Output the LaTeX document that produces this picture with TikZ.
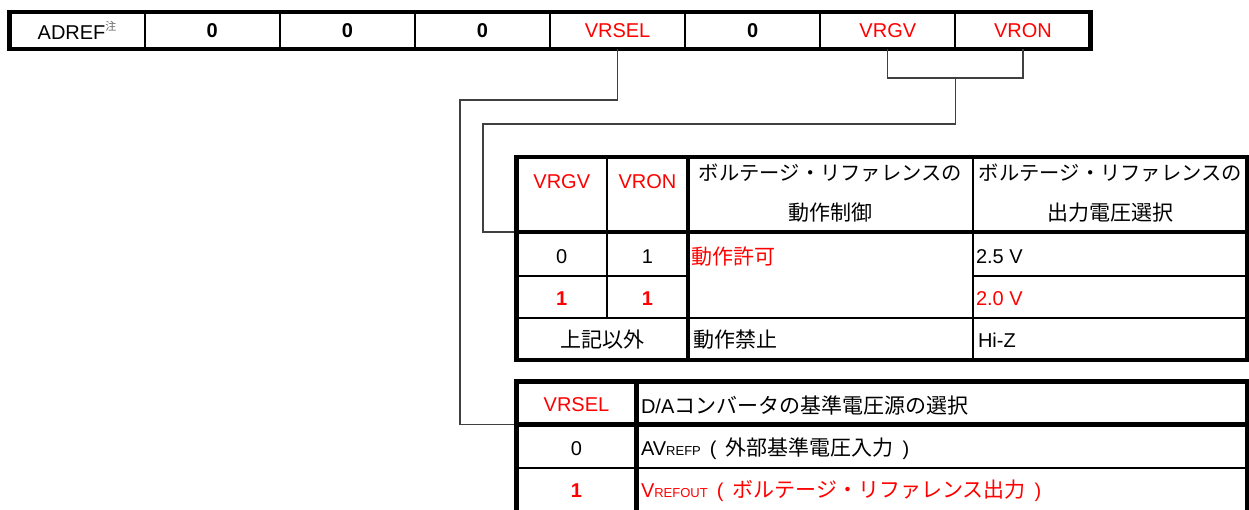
\documentclass[tikz,border=0pt]{standalone}
\usepackage{fontspec}
\setmainfont{Liberation Sans}
\newfontfamily\jpf{Noto Sans CJK JP}
\newcommand{\jpt}[1]{{\jpf\fontsize{21}{24}\selectfont #1}}
\newcommand{\jph}[1]{{\jpf\fontsize{20.3}{24}\selectfont #1}}
\newcommand{\smc}[1]{{\fontsize{13}{14}\selectfont #1}}
\newcommand{\lpar}{\hspace{9pt}(\hspace{9pt}}
\newcommand{\rpar}{\hspace{9pt})}
\definecolor{rd}{RGB}{255,0,0}
\begin{document}
\begin{tikzpicture}[x=1pt,y=-1pt,
  every node/.style={inner sep=0pt, outer sep=0pt, font=\fontsize{20}{24}\selectfont},
  thk/.style={line width=4.5pt},
  thn/.style={line width=1.8pt},
  conn/.style={line width=1.1pt, draw=black!75},
  regcell/.style={draw, line width=1.8pt, minimum width=135.125pt, minimum height=37pt},
  red/.style={text=rd},
  lft/.style={anchor=west}
]
\useasboundingbox (0,0) rectangle (1249,509);

% ---------- register row ----------
\node[regcell] (r1) at (77.06,30.5) {ADREF\raisebox{8.5pt}{\jpf\fontsize{11}{11}\selectfont\color{black!60}注}};
\node[regcell] (r2) at (212.19,30.5) {\textbf{0}};
\node[regcell] (r3) at (347.31,30.5) {\textbf{0}};
\node[regcell] (r4) at (482.44,30.5) {\textbf{0}};
\node[regcell, red] (r5) at (617.56,30.5) {VRSEL};
\node[regcell] (r6) at (752.69,30.5) {\textbf{0}};
\node[regcell, red] (r7) at (887.81,30.5) {VRGV};
\node[regcell, red] (r8) at (1022.94,30.5) {VRON};
\draw[thk] (9.5,12) rectangle (1090.5,49);

% ---------- connector target cells ----------
\node[minimum width=90.5pt, minimum height=75pt] (t1h) at (561.75,194.5) {};
\node[minimum width=120pt, minimum height=43pt] (t2h) at (576.5,403) {};

% ---------- connectors ----------
\coordinate (j1) at (460,100);
\coordinate (br) at (955.4,78);
\coordinate (j2) at (483,124);
\draw[conn] (r5.south) |- (j1) |- (t2h.south west);
\draw[conn] (r7.south) |- (br) -| (r8.south);
\draw[conn] (br) |- (j2) |- (t1h.south west);

% ---------- table 1 ----------
\draw[thn] (607,157) -- (607,318);
\draw[thn] (973,157) -- (973,360);
\draw[thn] (516.5,276) -- (688,276) (973,276) -- (1247.5,276);
\draw[thn] (516.5,318) -- (1247.5,318);
\draw[thk] (516.5,157) rectangle (1247.5,360);
\draw[thk] (516.5,232) -- (1247.5,232);
\draw[thk] (688,157) -- (688,360);

\node[red] (a1) at (561.75,182) {VRGV};
\node[red] (a2) at (647.5,182) {VRON};
\node (a3) at (830.5,173) {\jph{ボルテージ・リファレンスの}};
\node (a4) at (830.5,213) {\jpt{動作制御}};
\node (a5) at (1110.5,173) {\jph{ボルテージ・リファレンスの}};
\node (a6) at (1110.5,213) {\jpt{出力電圧選択}};

\node (b1) at (561.75,257) {0};
\node (b2) at (647.5,257) {1};
\node[lft, red] (b3) at (691,257) {\jpt{動作許可}};
\node[lft] (b4) at (976,257) {2.5 V};

\node[red] (c1) at (561.75,299) {\textbf{1}};
\node[red] (c2) at (647.5,299) {\textbf{1}};
\node[lft, red] (c4) at (976,299) {2.0 V};

\node (d1) at (602,340) {\jpt{上記以外}};
\node[lft] (d2) at (693,340) {\jpt{動作禁止}};
\node[lft] (d3) at (978,340) {Hi-Z};

% ---------- table 2 ----------
\draw[thn] (516.5,468) -- (1247.5,468);
\draw[thk] (516.5,381.5) rectangle (1247.5,515);
\draw[thk] (516.5,424.5) -- (1247.5,424.5);
\draw[thk] (636.5,381.5) -- (636.5,515);

\node[red] (e1) at (576.5,405) {VRSEL};
\node[lft] (e2) at (641,405) {D/A\jpt{コンバータの基準電圧源の選択}};
\node (f1) at (576.5,449) {0};
\node[lft] (f2) at (641,449) {AV\smc{REFP}\lpar\jpt{外部基準電圧入力}\rpar};
\node[red] (g1) at (576.5,491) {\textbf{1}};
\node[lft, red] (g2) at (641,491) {V\smc{REFOUT}\lpar\jpt{ボルテージ・リファレンス出力}\rpar};
\end{tikzpicture}
\end{document}
